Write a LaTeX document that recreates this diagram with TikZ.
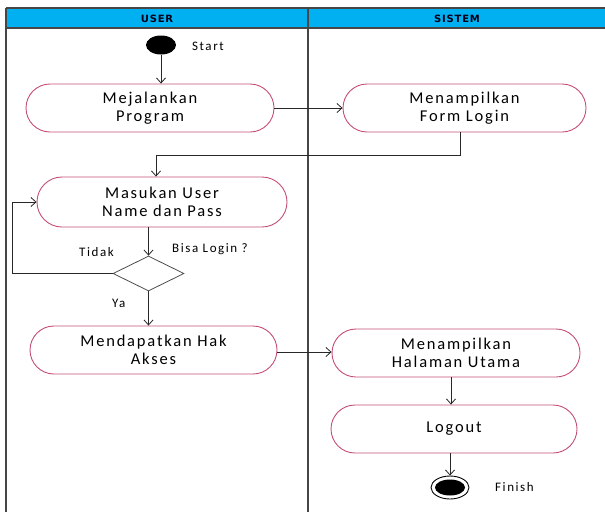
\documentclass[tikz,border=0pt]{standalone}
\usepackage{fontspec}
\setmainfont{Carlito}
\newfontfamily\hdrfont[LetterSpace=8]{DejaVu Sans}
\newfontfamily\nodefont[LetterSpace=11]{Carlito}
\newfontfamily\lblfont[LetterSpace=12]{Carlito}
\usetikzlibrary{shapes.misc,shapes.geometric,arrows.meta}
\definecolor{actcol}{RGB}{196,78,118}
\definecolor{hdrcol}{RGB}{0,176,240}
\definecolor{lanecol}{RGB}{70,70,70}
\definecolor{arrcol}{RGB}{40,40,40}
\tikzset{
  act/.style={rounded rectangle, draw=actcol, line width=0.9pt, minimum height=48pt,
    inner sep=0pt, align=center, font=\nodefont\fontsize{16.5}{17.5}\selectfont},
  lbl/.style={font=\lblfont\fontsize{13}{14}\selectfont, inner sep=0pt},
  hdr/.style={font=\hdrfont\bfseries\fontsize{10}{11}\selectfont, text=black!90!blue, inner sep=0pt},
  lane/.style={draw=lanecol, line width=1.4pt},
  arr/.style={draw=arrcol, line width=0.8pt, -{Straight Barb[length=5pt,width=9pt]}},
  conn/.style={draw=arrcol, line width=0.8pt}
}
\begin{document}
\begin{tikzpicture}[x=1pt,y=-1pt]
\useasboundingbox (0,0) rectangle (605,512);
% swimlanes
\fill[hdrcol] (6,8) rectangle (605,28);
\draw[lane] (6,8) -- (605,8);
\draw[lane] (6,28) -- (605,28);
\draw[lane] (6,8) -- (6,512);
\draw[lane] (308,8) -- (308,512);
\node[hdr] (huser) at (157,18.5) {USER};
\node[hdr] (hsis) at (457,18.5) {SISTEM};
% nodes
\node[ellipse, fill=black, minimum width=30pt, minimum height=19pt, inner sep=0pt] (start) at (161,45) {};
\node[lbl, anchor=west] (startlbl) at (192,46) {Start};
\node[act, minimum width=248pt] (prog) at (150,108) {Mejalankan\\Program};
\node[act, minimum width=243pt] (form) at (464.5,108) {Menampilkan\\Form Login};
\node[act, minimum width=250pt, minimum height=50pt] (masuk) at (162,202) {Masukan User\\Name dan Pass};
\node[diamond, draw=black!70, line width=0.8pt, aspect=2, minimum width=71pt, minimum height=35pt, inner sep=0pt] (dec) at (148.5,273.5) {};
\node[lbl, anchor=west] (tidak) at (79,252) {Tidak};
\node[lbl, anchor=west] (bisa) at (172,249) {Bisa Login ?};
\node[lbl, anchor=west] (ya) at (112,303) {Ya};
\node[act, minimum width=247pt] (akses) at (153.5,350) {Mendapatkan Hak\\Akses};
\node[act, minimum width=248pt] (utama) at (456,353) {Menampilkan\\Halaman Utama};
\node[act, minimum width=246pt] (logout) at (454,429) {Logout};
\node[ellipse, draw=black, line width=0.9pt, minimum width=38pt, minimum height=23pt, inner sep=0pt] (finout) at (450,487.5) {};
\node[ellipse, fill=black, minimum width=30pt, minimum height=16pt, inner sep=0pt] (finin) at (450,487.5) {};
\node[lbl, anchor=west] (finlbl) at (495,487) {Finish};
% connectors
\coordinate (c1) at (156,155);
\coordinate (lp) at (12,273.5);
\draw[arr] (start.south) -- (start.south |- prog.north);
\draw[arr] (prog.east) -- (prog.east -| form.west);
\draw[arr] ([xshift=-4.5pt]form.south) |- (c1) -- (c1 |- masuk.north);
\draw[arr] (masuk.south -| dec.north) -- (dec.north);
\draw[arr] (dec.west) -- (lp) |- (masuk.west);
\draw[arr] (dec.south) -- (dec.south |- akses.north);
\draw[arr] ([yshift=-2pt]akses.east) -- ([yshift=-2pt]akses.east -| utama.west);
\draw[arr] ([xshift=-5pt]utama.south) -- ([xshift=-5pt]utama.south |- logout.north);
\draw[arr] (logout.south -| finout.north) -- (finout.north);
\end{tikzpicture}
\end{document}
